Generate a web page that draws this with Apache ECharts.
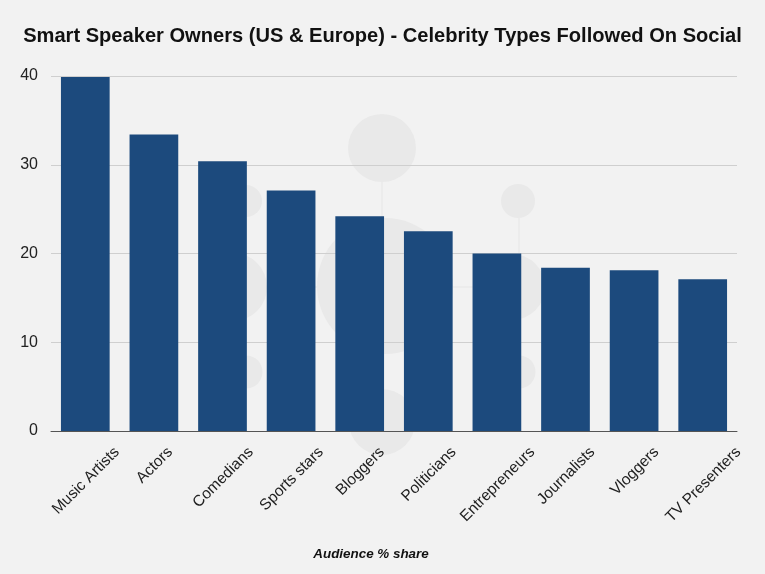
<!DOCTYPE html>
<html>
<head>
<meta charset="utf-8">
<title>Smart Speaker Owners</title>
<script src="https://cdn.jsdelivr.net/npm/echarts@6/dist/echarts.min.js"></script>
<style>
    html, body {margin: 0; padding: 0; background: #f2f2f2;}
    #main {width: 765px; height: 574px;}
</style>
</head>
<body>
<div id="main"></div>
<script>
var titleText = 'Smart Speaker Owners (US & Europe) - Celebrity Types Followed On Social';
var xName = 'Audience % share';
var categories = ['Music Artists', 'Actors', 'Comedians', 'Sports stars', 'Bloggers',
    'Politicians', 'Entrepreneurs', 'Journalists', 'Vloggers', 'TV Presenters'];
var shares = [39.9, 33.4, 30.4, 27.1, 24.2, 22.5, 20, 18.4, 18.1, 17.1];

var fontFamily = '"Liberation Sans", Arial, sans-serif';
var labelSize = 15.5;
var myChart = echarts.init(document.getElementById('main'));

// measure labels: they sit centred under the bar with their tops lined up
var ctx = document.createElement('canvas').getContext('2d');
ctx.font = labelSize + 'px ' + fontFamily;
var axisData = categories.map(function (name) {
    var len = ctx.measureText(name).width;
    return {
        value: name,
        textStyle: {align: 'center', verticalAlign: 'top', padding: [Math.max(len / 4 - 7, 0), len / 2, 0, 0]}
    };
});

// faint watermark behind the plot
var circles = [[382, 148, 34], [518, 201, 17], [385, 286, 68], [233, 287, 34], [246, 201, 16],
    [246, 372, 16.5], [512, 287, 33], [519, 372, 16.5], [382, 422, 33]];
var stems = [[382, 182, 382, 220], [519, 218, 519, 256], [267, 287, 317, 287], [453, 287, 479, 287], [382, 354, 382, 389]];
var watermark = circles.map(function (c) {
    return {type: 'circle', z: -10, silent: true, shape: {cx: c[0], cy: c[1], r: c[2]}, style: {fill: '#e9e9e9'}};
}).concat(stems.map(function (s) {
    return {type: 'line', z: -10, silent: true, shape: {x1: s[0], y1: s[1], x2: s[2], y2: s[3]}, style: {stroke: '#e6e6e6', lineWidth: 1}};
}));

var option = {
    backgroundColor: '#f2f2f2',
    animation: false,
    textStyle: {fontFamily: fontFamily},
    title: {
        text: titleText,
        left: 'center',
        top: 21,
        textStyle: {fontSize: 20.1, fontWeight: 'bold', color: '#111', fontFamily: fontFamily}
    },
    grid: {left: 51, right: 28, top: 76, bottom: 143, outerBoundsMode: 'none'},
    graphic: watermark,
    xAxis: {
        type: 'category',
        data: axisData,
        name: xName,
        nameLocation: 'middle',
        nameGap: 117,
        nameTextStyle: {fontSize: 13.4, fontWeight: 'bold', fontStyle: 'italic', color: '#111', fontFamily: fontFamily, padding: [0, 46, 0, 0]},
        axisTick: {show: false},
        axisLine: {lineStyle: {color: '#555', width: 1}},
        axisLabel: {
            interval: 0,
            rotate: 45,
            margin: 18,
            fontSize: labelSize,
            color: '#222',
            fontFamily: fontFamily,
            hideOverlap: false
        }
    },
    yAxis: {
        type: 'value',
        min: 0,
        max: 40,
        interval: 10,
        axisLine: {show: false},
        axisTick: {show: false},
        axisLabel: {fontSize: 16, color: '#222', margin: 13, fontFamily: fontFamily},
        splitLine: {lineStyle: {color: '#cfcfcf', width: 1}}
    },
    series: [{
        type: 'bar',
        data: shares,
        barWidth: '71%',
        itemStyle: {color: '#1c4a7d'}
    }]
};

myChart.setOption(option);
</script>
</body>
</html>
